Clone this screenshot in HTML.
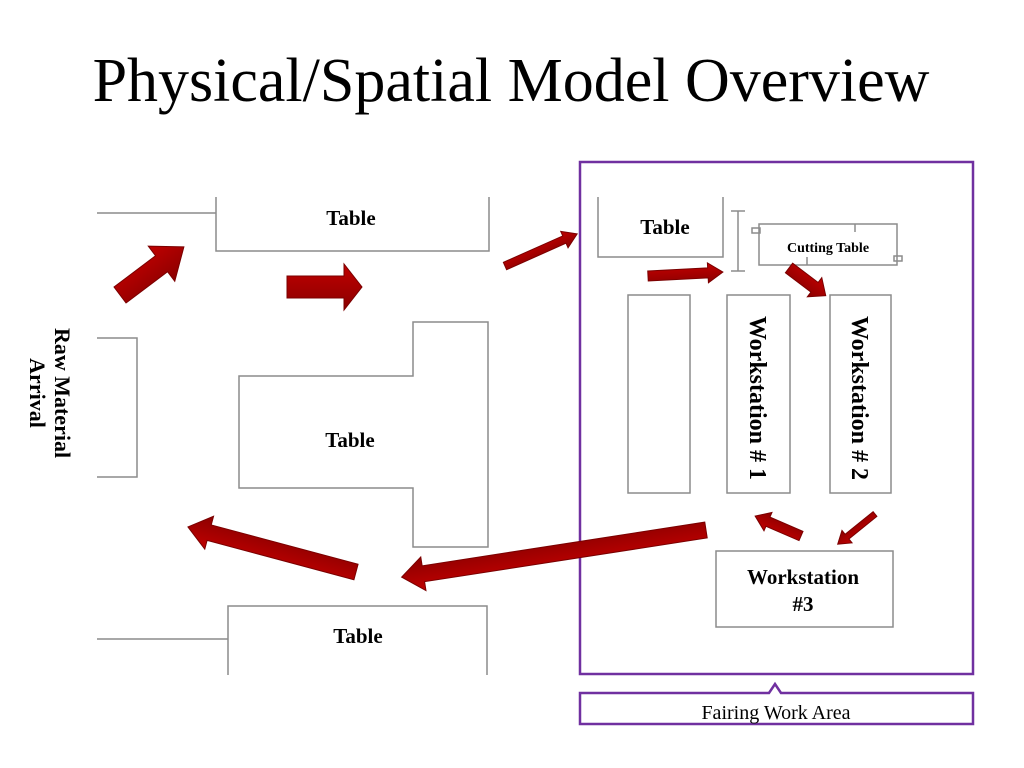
<!DOCTYPE html>
<html><head><meta charset="utf-8"><style>
html,body{margin:0;padding:0;background:#fff;}
svg{display:block;}
text{font-family:"Liberation Serif",serif;}
</style></head><body>
<svg width="1024" height="768" viewBox="0 0 1024 768" xmlns="http://www.w3.org/2000/svg">
<defs>
<linearGradient id="g" x1="0" y1="0" x2="0" y2="1"><stop offset="0" stop-color="#c00000"/><stop offset="1" stop-color="#8b0000"/></linearGradient>
</defs>
<text x="511" y="101" font-size="62" text-anchor="middle" fill="#000">Physical/Spatial Model Overview</text>

<g fill="none" stroke="#8c8c8c" stroke-width="1.5">
<polyline points="97,213 216,213"/>
<polyline points="216,197 216,251 489,251 489,197"/>
<polygon points="413,322 488,322 488,547 413,547 413,488 239,488 239,376 413,376"/>
<polyline points="97,338 137,338 137,477 97,477"/>
<polyline points="97,639 228,639"/>
<polyline points="228,675 228,606 487,606 487,675"/>
<polyline points="598,197 598,257 723,257 723,197"/>
<line x1="738" y1="211" x2="738" y2="271"/><line x1="731" y1="211" x2="745" y2="211"/><line x1="731" y1="271" x2="745" y2="271"/>
<rect x="759" y="224" width="138" height="41"/>
<line x1="855" y1="224" x2="855" y2="232"/><line x1="807" y1="257" x2="807" y2="265"/>
<rect x="752" y="228" width="8" height="5"/><rect x="894" y="256" width="8" height="5"/>
<rect x="628" y="295" width="62" height="198"/>
<rect x="727" y="295" width="63" height="198"/>
<rect x="830" y="295" width="61" height="198"/>
<rect x="716" y="551" width="177" height="76"/>
</g>

<rect x="580" y="162" width="393" height="512" fill="none" stroke="#7030a0" stroke-width="2.5"/>
<path d="M580,693 L769,693 L775,684 L781,693 L973,693 L973,724 L580,724 Z" fill="#fff" stroke="#7030a0" stroke-width="2.5"/>
<text x="776" y="719" font-size="20" text-anchor="middle">Fairing Work Area</text>

<g font-weight="bold" text-anchor="middle" fill="#000">
<text x="351" y="225" font-size="21">Table</text>
<text x="350" y="447" font-size="21">Table</text>
<text x="358" y="643" font-size="21">Table</text>
<text x="665" y="234" font-size="21">Table</text>
<text x="828" y="252" font-size="14">Cutting Table</text>
<text x="803" y="584" font-size="21">Workstation</text>
<text x="803" y="611" font-size="21">#3</text>
<text transform="translate(750,398) rotate(90)" font-size="24">Workstation # 1</text>
<text transform="translate(852,398) rotate(90)" font-size="24">Workstation # 2</text>
<text transform="translate(55,393) rotate(90)" font-size="22">Raw Material</text>
<text transform="translate(30,393) rotate(90)" font-size="22">Arrival</text>
</g>

<g fill="url(#g)" stroke="#7a0000" stroke-width="1">
<polygon transform="translate(120,295) rotate(-37)" points="0,-10 52,-10 52,-22 80,0 52,22 52,10 0,10"/>
<polygon transform="translate(287,287)" points="0,-11 57,-11 57,-23 75,0 57,23 57,11 0,11"/>
<polygon transform="translate(505,266) rotate(-24)" points="0,-4 65,-4 65,-9 79,0 65,9 65,4 0,4"/>
<polygon transform="translate(648,276) rotate(-3)" points="0,-5 60,-5 60,-10 75,0 60,10 60,5 0,5"/>
<polygon transform="translate(789,268) rotate(37)" points="0,-6 32,-6 32,-12 46,0 32,12 32,6 0,6"/>
<polygon transform="translate(706,530) rotate(171.2)" points="0,-8 286,-8 286,-17 308,0 286,17 286,8 0,8"/>
<polygon transform="translate(356,572) rotate(195)" points="0,-8 152,-8 152,-17 174,0 152,17 152,8 0,8"/>
<polygon transform="translate(801,536) rotate(203.5)" points="0,-5 36,-5 36,-10 50,0 36,10 36,5 0,5"/>
<polygon transform="translate(875,514) rotate(141)" points="0,-3 36,-3 36,-8 48,0 36,8 36,3 0,3"/>
</g>
</svg>
</body></html>
